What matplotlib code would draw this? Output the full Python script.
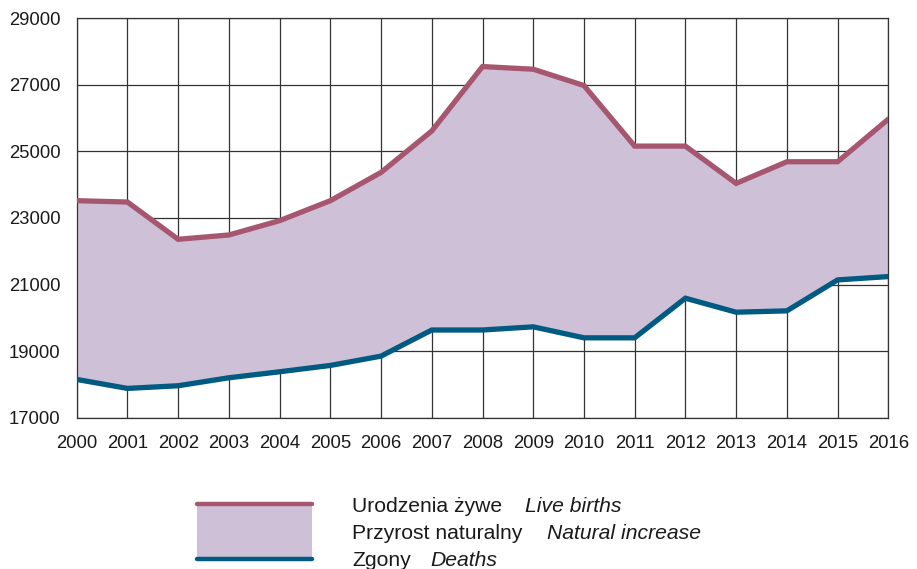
import numpy as np
import matplotlib.pyplot as plt
from matplotlib.patches import Rectangle
from matplotlib.lines import Line2D

plt.rcParams['font.family'] = ['Liberation Sans', 'DejaVu Sans']

years = list(range(2000, 2017))
births = [23520, 23480, 22360, 22490, 22920, 23520, 24370, 25615, 27550,
          27470, 26980, 25160, 25160, 24040, 24690, 24690, 25970]
deaths = [18150, 17880, 17960, 18200, 18380, 18570, 18850, 19635, 19635,
          19730, 19400, 19400, 20590, 20170, 20210, 21140, 21240]
yticks = [17000, 19000, 21000, 23000, 25000, 27000, 29000]

c_births = '#a6576f'
c_deaths = '#005a82'
c_fill = '#cec0d7'
c_grid = '#333333'

fig = plt.figure(figsize=(9.17, 5.69), dpi=100)
ax = fig.add_axes([76.7/917, 1 - 417.7/569, (888.3-76.7)/917, 399.4/569])

ax.set_xlim(2000, 2016)
ax.set_ylim(17000, 29000)
ax.set_xticks(years)
ax.set_yticks(yticks)
ax.grid(True, color=c_grid, lw=0.9)
ax.set_axisbelow(True)
for s in ax.spines.values():
    s.set_color(c_grid)
    s.set_linewidth(0.9)
ax.tick_params(length=0, labelsize=13.3, colors='#1a1a1a')
ax.tick_params(axis='x', pad=12.5)
ax.tick_params(axis='y', pad=11.5)

ax.fill_between(years, deaths, births, color=c_fill, lw=0, zorder=2)
ax.plot(years, births, color=c_births, lw=3.8, zorder=3, solid_capstyle='round',
        solid_joinstyle='miter')
ax.plot(years, deaths, color=c_deaths, lw=3.8, zorder=3, solid_capstyle='round',
        solid_joinstyle='miter')

# legend drawn by hand
W, H = 917.0, 569.0
def fx(px): return px / W
def fy(py): return 1 - py / H

fig.add_artist(Rectangle((fx(197), fy(559)), fx(312) - fx(197), fy(504) - fy(559),
                         transform=fig.transFigure, color=c_fill, lw=0))
fig.add_artist(Line2D([fx(197), fx(312)], [fy(504), fy(504)], transform=fig.transFigure,
                      color=c_births, lw=3.2, solid_capstyle='round'))
fig.add_artist(Line2D([fx(197), fx(312)], [fy(559), fy(559)], transform=fig.transFigure,
                      color=c_deaths, lw=3.2, solid_capstyle='round'))

labels_pl = ['Urodzenia żywe', 'Przyrost naturalny', 'Zgony']
labels_en = ['Live births', 'Natural increase', 'Deaths']
en_x = [525, 546.7, 430.7]
row_y = [512.5, 539, 565.5]
for pl, en, ex, ry in zip(labels_pl, labels_en, en_x, row_y):
    fig.text(fx(352), fy(ry), pl, fontsize=15.2, va='baseline', color='#1a1a1a')
    fig.text(fx(ex), fy(ry), en, fontsize=15.2, va='baseline', style='italic', color='#1a1a1a')

fig.savefig('out.png', dpi=100)
